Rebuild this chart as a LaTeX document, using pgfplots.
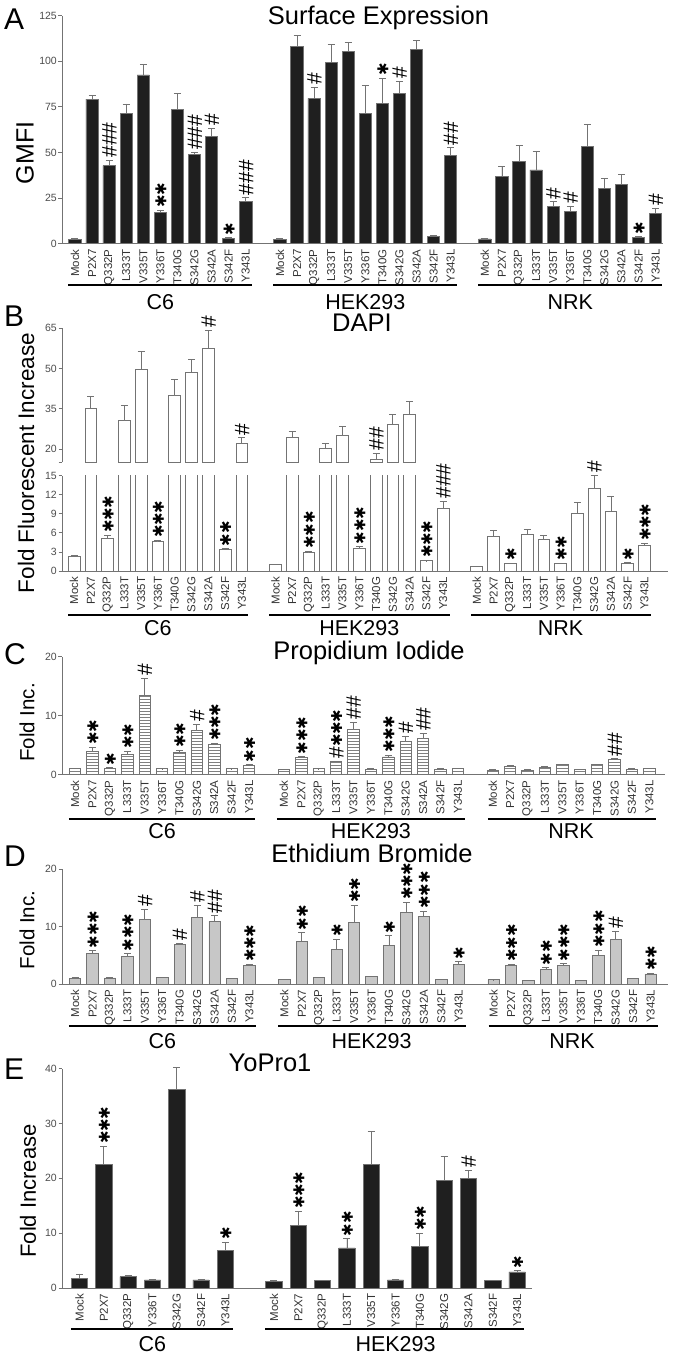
\documentclass[border=0pt]{standalone}
\usepackage{fontspec}
\setmainfont{Liberation Sans}
\newfontfamily\djv{DejaVu Sans}
\usepackage{pgfplots}
\pgfplotsset{compat=1.18}
\usetikzlibrary{patterns}

\definecolor{axgray}{gray}{0.45}
\definecolor{bargray}{gray}{0.78}
\definecolor{barblack}{gray}{0.12}

\newcommand\tickfont{\fontsize{10.5}{10.5}\selectfont}
\newcommand\catfont{\fontsize{11.5}{11.5}\selectfont}
\newcommand\grpfont{\fontsize{21.5}{21.5}\selectfont}
\newcommand\ttlfont{\fontsize{25.5}{25.5}\selectfont}
\newcommand\letfont{\fontsize{30}{30}\selectfont}
\newcommand\annfont{\fontsize{21}{21}\selectfont}
\protected\def\st{\makebox[12.3pt]{\djv\fontsize{15}{15}\selectfont\raisebox{1.5pt}{✱}}}
\protected\def\Sa{\st}
\protected\def\Sb{\st\st}
\protected\def\Sc{\st\st\st}
\protected\def\Ha{\#}
\protected\def\Hb{\#\#}
\protected\def\Hc{\#\#\#}
\protected\def\HSc{\#\st\st\st}

\tikzset{grp/.style={line width=2.3pt, black}}
\pgfplotsset{
 base/.style={scale only axis, anchor=south west, axis lines=left,
   axis line style={-, draw=axgray, line width=0.9pt},
   tick align=outside, major tick length=3.5pt,
   ytick style={draw=axgray, line width=0.8pt}, xtick style={draw=none},
   /pgf/number format/assume math mode=true,
   yticklabel style={font=\tickfont, text=black!70, inner sep=1.5pt},
   xticklabel style={rotate=90, anchor=east, font=\catfont, text=black!80, inner sep=2pt},
   clip=false},
 bars/.style={ybar, bar shift=0pt, draw=axgray, line width=0.8pt,
   error bars/y dir=plus, error bars/y explicit,
   error bars/error bar style={draw=axgray, line width=0.8pt},
   error bars/error mark options={rotate=90, draw=axgray, line width=0.8pt, mark size=3.5pt}},
 ann/.style={draw=none, mark=none, point meta=explicit symbolic,
   nodes near coords={\kern2.5pt\pgfplotspointmeta},
   every node near coord/.style={rotate=90, anchor=west, inner sep=0pt,
     text height=15pt, text depth=0pt, font=\annfont, text=black}},
 over/.style={scale only axis, anchor=south west, hide axis, clip=false},
}

\begin{document}
\begin{tikzpicture}
% ---------------- Panel A
\begin{axis}[base, at={(62pt,1113.3pt)}, width=601pt, height=228pt,
  xmin=-0.76, xmax=34.43, ymin=0, ymax=125, ytick={0,25,50,75,100,125},
  xtick={0,1,2,3,4,5,6,7,8,9,10,12,13,14,15,16,17,18,19,20,21,22,24,25,26,27,28,29,30,31,32,33,34},
  xticklabels={Mock,P2X7,Q332P,L333T,V335T,Y336T,T340G,S342G,S342A,S342F,Y343L,Mock,P2X7,Q332P,L333T,V335T,Y336T,T340G,S342G,S342A,S342F,Y343L,Mock,P2X7,Q332P,L333T,V335T,Y336T,T340G,S342G,S342A,S342F,Y343L}]
\addplot[bars, fill=barblack, bar width=12.3pt] table[x=x,y=y,y error=e]{
x y e
0 2.4 0.3
1 79.3 1.8
2 42.8 2.9
3 71.3 5.3
4 92.5 5.8
5 17.0 1.5
6 73.8 8.4
7 49.0 1.0
8 58.8 4.4
9 2.9 0.4
10 23.0 2.2
12 2.5 0.2
13 108.0 6.2
14 79.7 6.0
15 99.4 9.9
16 105.3 4.9
17 71.3 15.3
18 76.8 14.0
19 82.6 6.4
20 106.7 4.6
21 4.0 0.4
22 48.2 4.4
24 2.6 0.3
25 36.7 5.7
26 45.3 8.8
27 40.4 10.4
28 20.5 2.5
29 17.9 2.4
30 53.2 12.0
31 30.2 5.4
32 32.3 5.9
33 3.5 0.4
34 16.8 2.8
};
\addplot[ann] table[x=x,y=y,meta=l]{
x y l
2 45.7 \Hc
5 18.5 \Sb
7 50.0 \Hc
8 63.2 \Ha
9 3.3 \Sa
10 25.2 \Hc
14 85.7 \Ha
18 90.8 \Sa
19 89.0 \Ha
22 52.6 \Hb
28 23.0 \Ha
29 20.3 \Ha
33 3.9 \Sa
34 19.6 \Ha
};
\draw[grp] ([yshift=-41.3pt]axis cs:-0.38,0) -- ([yshift=-41.3pt]axis cs:10.36,0);
\draw[grp] ([yshift=-41.3pt]axis cs:11.62,0) -- ([yshift=-41.3pt]axis cs:22.36,0);
\draw[grp] ([yshift=-41.3pt]axis cs:23.62,0) -- ([yshift=-41.3pt]axis cs:34.36,0);
\node[font=\grpfont] at ([yshift=-58pt]axis cs:5,0) {C6};
\node[font=\grpfont] at ([yshift=-58pt]axis cs:17,0) {HEK293};
\node[font=\grpfont] at ([yshift=-58pt]axis cs:29,0) {NRK};
\end{axis}

% ---------------- Panel B (broken axis)
\begin{axis}[base, at={(62pt,894.6pt)}, width=606pt, height=134.1pt,
  xmin=-0.72, xmax=35.4, ymin=15, ymax=65, axis x line=none,
  ytick={15,20,35,50,65}, yticklabels={,20,35,50,65}, clip=true]
\addplot[bars, fill=white, bar width=11.7pt] table[x=x,y=y,y error=e]{
x y e
1 35.2 4.4
3 30.7 5.5
4 49.5 7.0
6 40.0 5.9
7 48.4 5.1
8 57.4 6.8
10 22.1 2.1
13 24.4 2.1
15 20.4 1.7
16 25.1 3.2
18 16.3 2.1
19 29.0 4.0
20 33.0 4.8
};
\end{axis}
\begin{axis}[base, at={(62pt,786pt)}, width=606pt, height=95.3pt,
  xmin=-0.72, xmax=35.4, ymin=0, ymax=15, ytick={0,3,6,9,12,15}, clip=true,
  xtick={0,1,2,3,4,5,6,7,8,9,10,12,13,14,15,16,17,18,19,20,21,22,24,25,26,27,28,29,30,31,32,33,34},
  xticklabels={Mock,P2X7,Q332P,L333T,V335T,Y336T,T340G,S342G,S342A,S342F,Y343L,Mock,P2X7,Q332P,L333T,V335T,Y336T,T340G,S342G,S342A,S342F,Y343L,Mock,P2X7,Q332P,L333T,V335T,Y336T,T340G,S342G,S342A,S342F,Y343L}]
\addplot[bars, fill=white, bar width=11.7pt] table[x=x,y=y,y error=e]{
x y e
0 2.25 0.15
1 35.2 4.4
2 5.1 0.5
3 30.7 5.5
4 49.5 7.0
5 4.6 0.2
6 40.0 5.9
7 48.4 5.1
8 57.4 6.8
9 3.35 0.15
10 22.1 2.1
12 1.05 0.05
13 24.4 2.1
14 2.9 0.25
15 20.4 1.7
16 25.1 3.2
17 3.55 0.25
18 16.3 2.1
19 29.0 4.0
20 33.0 4.8
21 1.6 0.05
22 9.9 1.1
24 0.75 0.05
25 5.5 0.95
26 1.2 0.05
27 5.8 0.75
28 5.0 0.6
29 1.2 0.05
30 9.1 1.7
31 13.0 2.05
32 9.4 2.3
33 1.2 0.1
34 4.0 0.35
};
\end{axis}
\begin{axis}[over, at={(62pt,894.6pt)}, width=606pt, height=134.1pt,
  xmin=-0.72, xmax=35.4, ymin=15, ymax=65]
\addplot[ann] table[x=x,y=y,meta=l]{
x y l
8 64.2 \Ha
10 24.2 \Ha
18 18.4 \Hb
};
\end{axis}
\begin{axis}[over, at={(62pt,786pt)}, width=606pt, height=95.3pt,
  xmin=-0.72, xmax=35.4, ymin=0, ymax=15]
\addplot[ann] table[x=x,y=y,meta=l]{
x y l
2 5.6 \Sc
5 4.8 \Sc
9 3.5 \Sb
14 3.15 \Sc
17 3.8 \Sc
21 1.65 \Sc
22 11.0 \Hc
26 1.25 \Sa
29 1.25 \Sb
31 15.05 \Ha
33 1.3 \Sa
34 4.35 \Sc
};
\draw[grp] ([yshift=-44pt]axis cs:-0.36,0) -- ([yshift=-44pt]axis cs:10.38,0);
\draw[grp] ([yshift=-44pt]axis cs:11.64,0) -- ([yshift=-44pt]axis cs:22.38,0);
\draw[grp] ([yshift=-44pt]axis cs:23.66,0) -- ([yshift=-44pt]axis cs:34.38,0);
\node[font=\grpfont] at ([yshift=-57.5pt]axis cs:5,0) {C6};
\node[font=\grpfont] at ([yshift=-57.5pt]axis cs:17,0) {HEK293};
\node[font=\grpfont] at ([yshift=-57.5pt]axis cs:29,0) {NRK};
\end{axis}

% ---------------- Panel C
\begin{axis}[base, at={(62pt,582.3pt)}, width=603pt, height=118pt,
  xmin=-0.75, xmax=33.9, ymin=0, ymax=20, ytick={0,10,20},
  xtick={0,1,2,3,4,5,6,7,8,9,10,12,13,14,15,16,17,18,19,20,21,22,24,25,26,27,28,29,30,31,32,33},
  xticklabels={Mock,P2X7,Q332P,L333T,V335T,Y336T,T340G,S342G,S342A,S342F,Y343L,Mock,P2X7,Q332P,L333T,V335T,Y336T,T340G,S342G,S342A,S342F,Y343L,Mock,P2X7,Q332P,L333T,V335T,Y336T,T340G,S342G,S342F,Y343L}]
\addplot[bars, fill=white, postaction={pattern=horizontal lines, pattern color=black!50}, bar width=11.3pt] table[x=x,y=y,y error=e]{
x y e
0 1.0 0.05
1 3.9 0.7
2 1.13 0.05
3 3.4 0.6
4 13.4 3.0
5 1.0 0.03
6 3.8 0.4
7 7.5 1.0
8 5.2 0.1
9 1.0 0.03
10 1.64 0.05
12 0.9 0.05
13 2.9 0.15
14 1.0 0.03
15 2.2 0.1
16 7.7 1.2
17 0.96 0.03
18 3.0 0.35
19 5.65 0.85
20 6.15 0.85
21 0.96 0.03
22 1.07 0.03
24 0.8 0.17
25 1.47 0.05
26 0.8 0.1
27 1.3 0.05
28 1.7 0.05
29 0.85 0.05
30 1.75 0.05
31 2.65 0.05
32 0.96 0.03
33 1.07 0.03
};
\addplot[ann] table[x=x,y=y,meta=l]{
x y l
1 4.6 \Sb
2 1.2 \Sa
3 4.0 \Sb
4 16.4 \Ha
6 4.2 \Sb
7 8.5 \Ha
8 5.3 \Sc
10 1.7 \Sb
13 3.05 \Sc
15 2.3 \HSc
16 8.9 \Hb
18 3.3 \Sc
19 6.5 \Ha
20 7.0 \Hb
31 2.7 \Hb
};
\draw[grp] ([yshift=-44.6pt]axis cs:-0.35,0) -- ([yshift=-44.6pt]axis cs:10.36,0);
\draw[grp] ([yshift=-44.6pt]axis cs:11.6,0) -- ([yshift=-44.6pt]axis cs:22.38,0);
\draw[grp] ([yshift=-44.6pt]axis cs:23.72,0) -- ([yshift=-44.6pt]axis cs:33.4,0);
\node[font=\grpfont] at ([yshift=-56pt]axis cs:5,0) {C6};
\node[font=\grpfont] at ([yshift=-56pt]axis cs:17,0) {HEK293};
\node[font=\grpfont] at ([yshift=-56pt]axis cs:28.5,0) {NRK};
\end{axis}

% ---------------- Panel D
\begin{axis}[base, at={(62pt,373pt)}, width=606pt, height=114.7pt,
  xmin=-0.75, xmax=34, ymin=0, ymax=20, ytick={0,10,20},
  xtick={0,1,2,3,4,5,6,7,8,9,10,12,13,14,15,16,17,18,19,20,21,22,24,25,26,27,28,29,30,31,32,33},
  xticklabels={Mock,P2X7,Q332P,L333T,V335T,Y336T,T340G,S342G,S342A,S342F,Y343L,Mock,P2X7,Q332P,L333T,V335T,Y336T,T340G,S342G,S342A,S342F,Y343L,Mock,P2X7,Q332P,L333T,V335T,Y336T,T340G,S342G,S342F,Y343L}]
\addplot[bars, fill=bargray, bar width=11.3pt] table[x=x,y=y,y error=e]{
x y e
0 1.0 0.1
1 5.3 0.5
2 1.05 0.05
3 4.8 0.5
4 11.3 1.7
5 1.1 0.05
6 6.9 0.2
7 11.6 2.1
8 10.9 1.0
9 0.93 0.03
10 3.2 0.2
12 0.8 0.03
13 7.4 1.55
14 1.1 0.1
15 6.1 1.7
16 10.7 3.0
17 1.28 0.05
18 6.75 1.65
19 12.45 1.75
20 11.7 1.0
21 0.8 0.05
22 3.43 0.45
24 0.75 0.03
25 3.2 0.3
26 0.6 0.03
27 2.56 0.3
28 3.2 0.35
29 0.6 0.03
30 5.0 0.9
31 7.8 1.45
32 1.0 0.05
33 1.75 0.15
};
\addplot[ann] table[x=x,y=y,meta=l]{
x y l
1 5.8 \Sc
3 5.3 \Sc
4 13.0 \Ha
6 7.1 \Ha
7 13.7 \Ha
8 11.9 \Hb
10 3.4 \Sc
13 8.95 \Sb
15 7.8 \Sa
16 13.7 \Sb
18 8.4 \Sa
19 14.2 \Sc
20 12.7 \Sc
22 3.9 \Sa
25 3.5 \Sc
27 2.85 \Sb
28 3.55 \Sc
30 5.9 \Sc
31 9.25 \Ha
33 1.9 \Sb
};
\draw[grp] ([yshift=-42pt]axis cs:-0.35,0) -- ([yshift=-42pt]axis cs:10.38,0);
\draw[grp] ([yshift=-42pt]axis cs:11.64,0) -- ([yshift=-42pt]axis cs:22.42,0);
\draw[grp] ([yshift=-42pt]axis cs:23.72,0) -- ([yshift=-42pt]axis cs:33.45,0);
\node[font=\grpfont] at ([yshift=-57pt]axis cs:5,0) {C6};
\node[font=\grpfont] at ([yshift=-57pt]axis cs:17,0) {HEK293};
\node[font=\grpfont] at ([yshift=-57pt]axis cs:28.5,0) {NRK};
\end{axis}

% ---------------- Panel E
\begin{axis}[base, at={(62pt,69pt)}, width=469.7pt, height=219.3pt,
  xmin=-0.72, xmax=18.6, ymin=0, ymax=40, ytick={0,10,20,30,40},
  xtick={0,1,2,3,4,5,6,8,9,10,11,12,13,14,15,16,17,18},
  xticklabels={Mock,P2X7,Q332P,Y336T,S342G,S342F,Y343L,Mock,P2X7,Q332P,L333T,V335T,Y336T,T340G,S342G,S342A,S342F,Y343L}]
\addplot[bars, fill=barblack, bar width=16.3pt] table[x=x,y=y,y error=e]{
x y e
0 1.77 0.8
1 22.6 3.25
2 2.07 0.2
3 1.46 0.05
4 36.2 4.0
5 1.46 0.05
6 6.77 1.5
8 1.2 0.1
9 11.4 2.6
10 1.34 0.05
11 7.3 1.7
12 22.6 5.9
13 1.46 0.05
14 7.56 2.45
15 19.6 4.4
16 20.06 1.35
17 1.34 0.05
18 2.93 0.25
};
\addplot[ann] table[x=x,y=y,meta=l]{
x y l
1 25.85 \Sc
6 8.3 \Sa
9 14.0 \Sc
11 9.0 \Sb
14 10.0 \Sb
16 21.4 \Ha
18 3.17 \Sa
};
\draw[grp] ([yshift=-41.3pt]axis cs:-0.35,0) -- ([yshift=-41.3pt]axis cs:6.3,0);
\draw[grp] ([yshift=-41.3pt]axis cs:7.64,0) -- ([yshift=-41.3pt]axis cs:18.3,0);
\node[font=\grpfont] at ([yshift=-56.5pt]axis cs:3,0) {C6};
\node[font=\grpfont] at ([yshift=-56.5pt]axis cs:13,0) {HEK293};
\end{axis}

% ---------------- titles, letters, y labels
\node[font=\ttlfont, anchor=base] at (378.5pt,1332pt) {Surface Expression};
\node[font=\ttlfont, anchor=base] at (362pt,1025.3pt) {DAPI};
\node[font=\ttlfont, anchor=base] at (369pt,697pt) {Propidium Iodide};
\node[font=\ttlfont, anchor=base] at (372pt,494pt) {Ethidium Bromide};
\node[font=\ttlfont, anchor=base] at (270pt,285pt) {YoPro1};

\node[font=\letfont, anchor=base west, inner sep=0pt] at (4pt,1327pt) {A};
\node[font=\letfont, anchor=base west, inner sep=0pt] at (4pt,1030pt) {B};
\node[font=\letfont, anchor=base west, inner sep=0pt] at (4pt,692pt) {C};
\node[font=\letfont, anchor=base west, inner sep=0pt] at (4pt,490pt) {D};
\node[font=\letfont, anchor=base west, inner sep=0pt] at (4pt,277pt) {E};

\node[font=\fontsize{25}{25}\selectfont, rotate=90] at (25pt,1204pt) {GMFI};
\node[font=\fontsize{22.5}{22.5}\selectfont, rotate=90] at (26pt,894pt) {Fold Fluorescent Increase};
\node[font=\fontsize{20.5}{20.5}\selectfont, rotate=90] at (27pt,634.5pt) {Fold Inc.};
\node[font=\fontsize{20.5}{20.5}\selectfont, rotate=90] at (27pt,427pt) {Fold Inc.};
\node[font=\fontsize{22}{22}\selectfont, rotate=90] at (28pt,166pt) {Fold Increase};

\pgfresetboundingbox
\path[use as bounding box] (0,0) rectangle (675pt,1357pt);
\end{tikzpicture}
\end{document}
